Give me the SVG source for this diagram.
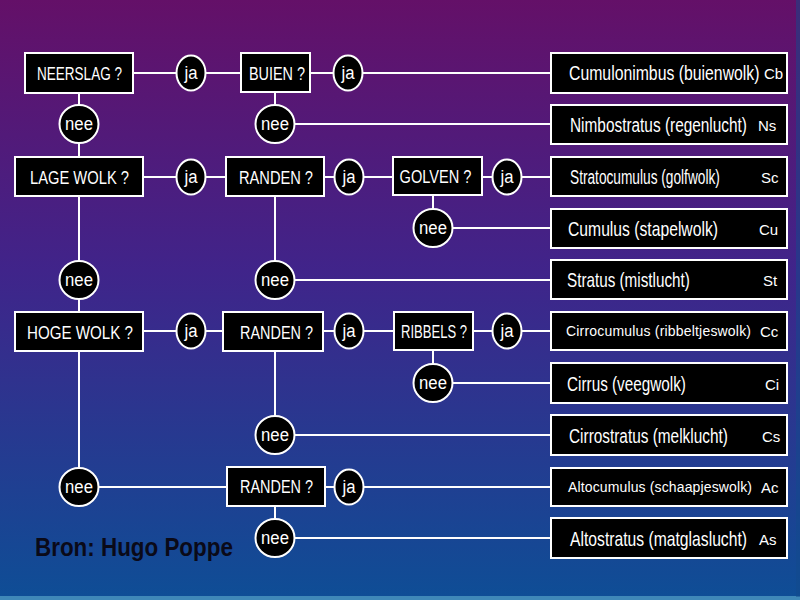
<svg xmlns="http://www.w3.org/2000/svg" width="800" height="600" viewBox="0 0 800 600">
<defs>
<linearGradient id="bg" x1="0" y1="0" x2="0" y2="1">
<stop offset="0" stop-color="#641068"/>
<stop offset="0.45" stop-color="#40248a"/>
<stop offset="1" stop-color="#0e4e96"/>
</linearGradient>
</defs>
<style>
.box{fill:#000;stroke:#fff;stroke-width:2}
.circ{fill:#000;stroke:#fff;stroke-width:2}
.ln{stroke:#fff;stroke-width:2;fill:none}
.q{font-family:"Liberation Sans",Arial,sans-serif;font-size:19px;fill:#fff;text-anchor:middle}
.lbl{font-family:"Liberation Sans",Arial,sans-serif;font-size:19px;fill:#fff;text-anchor:middle}
.res{font-family:"Liberation Sans",Arial,sans-serif;font-size:20px;fill:#fff}
.resa{font-family:"Liberation Sans",Arial,sans-serif;font-size:14px;fill:#fff}
.ab{font-family:"Liberation Sans",Arial,sans-serif;font-size:15px;fill:#fff}
.src{font-family:"Liberation Sans",Arial,sans-serif;font-size:26px;font-weight:bold;fill:#0a0a18}
</style>
<rect x="0" y="0" width="800" height="600" fill="url(#bg)"/>
<rect x="0" y="596" width="800" height="4" fill="#3f88b8"/>
<rect x="796" y="0" width="4" height="597" fill="#124a8c" opacity="0.5"/>

<g id="connectors" class="ln">
<line x1="133" y1="73" x2="241" y2="73"/>
<line x1="310" y1="73" x2="551" y2="73"/>
<line x1="79" y1="93" x2="79" y2="157"/>
<line x1="275" y1="92" x2="275" y2="124"/>
<line x1="275" y1="124" x2="551" y2="124"/>
<line x1="143" y1="177" x2="551" y2="177"/>
<line x1="433" y1="195" x2="433" y2="228"/>
<line x1="433" y1="228" x2="551" y2="228"/>
<line x1="275" y1="196" x2="275" y2="280"/>
<line x1="275" y1="280" x2="551" y2="280"/>
<line x1="79" y1="196" x2="79" y2="312"/>
<line x1="143" y1="331" x2="551" y2="331"/>
<line x1="433" y1="350" x2="433" y2="383"/>
<line x1="433" y1="383" x2="551" y2="383"/>
<line x1="275" y1="351" x2="275" y2="435"/>
<line x1="275" y1="435" x2="551" y2="435"/>
<line x1="79" y1="351" x2="79" y2="487"/>
<line x1="79" y1="487" x2="227" y2="487"/>
<line x1="325" y1="487" x2="551" y2="487"/>
<line x1="275" y1="506" x2="275" y2="538"/>
<line x1="275" y1="538" x2="551" y2="538"/>
</g>

<g id="q-neerslag"><rect class="box" x="25" y="53" width="108" height="40"/><text class="q" transform="translate(79.5 80) scale(0.712 1)">NEERSLAG ?</text></g>
<g id="q-buien"><rect class="box" x="241" y="53" width="69" height="39"/><text class="q" transform="translate(277 79.5) scale(0.758 1)">BUIEN ?</text></g>
<g id="q-lagewolk"><rect class="box" x="15" y="157" width="128" height="39"/><text class="q" transform="translate(79.5 183.5) scale(0.775 1)">LAGE WOLK ?</text></g>
<g id="q-randen1"><rect class="box" x="226" y="157" width="98" height="39"/><text class="q" transform="translate(276 183.5) scale(0.77 1)">RANDEN ?</text></g>
<g id="q-golven"><rect class="box" x="393" y="157" width="89" height="38"/><text class="q" transform="translate(435.5 183) scale(0.768 1)">GOLVEN ?</text></g>
<g id="q-hogewolk"><rect class="box" x="15" y="312" width="128" height="39"/><text class="q" transform="translate(80 338.5) scale(0.797 1)">HOGE WOLK ?</text></g>
<g id="q-randen2"><rect class="box" x="223" y="312" width="100" height="39"/><text class="q" transform="translate(276.5 339) scale(0.76 1)">RANDEN ?</text></g>
<g id="q-ribbels"><rect class="box" x="394" y="312" width="79" height="38"/><text class="q" transform="translate(434 338) scale(0.687 1)">RIBBELS ?</text></g>
<g id="q-randen3"><rect class="box" x="227" y="467" width="98" height="39"/><text class="q" transform="translate(276.5 493) scale(0.76 1)">RANDEN ?</text></g>

<g id="ja1"><ellipse class="circ" cx="191" cy="73" rx="14.5" ry="17.5"/><text class="lbl" transform="translate(191 78.5) scale(0.88 1)">ja</text></g>
<g id="ja2"><ellipse class="circ" cx="348" cy="73" rx="14.5" ry="17.5"/><text class="lbl" transform="translate(348 78.5) scale(0.88 1)">ja</text></g>
<g id="ja3"><ellipse class="circ" cx="191" cy="177" rx="14.5" ry="17.5"/><text class="lbl" transform="translate(191 182.5) scale(0.88 1)">ja</text></g>
<g id="ja4"><ellipse class="circ" cx="349" cy="177" rx="14.5" ry="17.5"/><text class="lbl" transform="translate(349 182.5) scale(0.88 1)">ja</text></g>
<g id="ja5"><ellipse class="circ" cx="507" cy="177" rx="14.5" ry="17.5"/><text class="lbl" transform="translate(507 182.5) scale(0.88 1)">ja</text></g>
<g id="ja6"><ellipse class="circ" cx="191" cy="331" rx="14.5" ry="17.5"/><text class="lbl" transform="translate(191 336.5) scale(0.88 1)">ja</text></g>
<g id="ja7"><ellipse class="circ" cx="349" cy="331" rx="14.5" ry="17.5"/><text class="lbl" transform="translate(349 336.5) scale(0.88 1)">ja</text></g>
<g id="ja8"><ellipse class="circ" cx="507" cy="331" rx="14.5" ry="17.5"/><text class="lbl" transform="translate(507 336.5) scale(0.88 1)">ja</text></g>
<g id="ja9"><ellipse class="circ" cx="349" cy="487" rx="14.5" ry="17.5"/><text class="lbl" transform="translate(349 492.5) scale(0.88 1)">ja</text></g>

<g id="nee1"><ellipse class="circ" cx="79" cy="124" rx="19.5" ry="19"/><text class="lbl" transform="translate(79 129.5) scale(0.88 1)">nee</text></g>
<g id="nee2"><ellipse class="circ" cx="275" cy="124" rx="19.5" ry="19"/><text class="lbl" transform="translate(275 129.5) scale(0.88 1)">nee</text></g>
<g id="nee3"><ellipse class="circ" cx="433" cy="228" rx="19.5" ry="19"/><text class="lbl" transform="translate(433 233.5) scale(0.88 1)">nee</text></g>
<g id="nee4"><ellipse class="circ" cx="79" cy="280" rx="19.5" ry="19"/><text class="lbl" transform="translate(79 285.5) scale(0.88 1)">nee</text></g>
<g id="nee5"><ellipse class="circ" cx="275" cy="280" rx="19.5" ry="19"/><text class="lbl" transform="translate(275 285.5) scale(0.88 1)">nee</text></g>
<g id="nee6"><ellipse class="circ" cx="433" cy="383" rx="19.5" ry="19"/><text class="lbl" transform="translate(433 388.5) scale(0.88 1)">nee</text></g>
<g id="nee7"><ellipse class="circ" cx="275" cy="435" rx="19.5" ry="19"/><text class="lbl" transform="translate(275 440.5) scale(0.88 1)">nee</text></g>
<g id="nee8"><ellipse class="circ" cx="79" cy="487" rx="19.5" ry="19"/><text class="lbl" transform="translate(79 492.5) scale(0.88 1)">nee</text></g>
<g id="nee9"><ellipse class="circ" cx="275" cy="538" rx="19.5" ry="19"/><text class="lbl" transform="translate(275 543.5) scale(0.88 1)">nee</text></g>

<g id="r-cb"><rect class="box" x="551" y="53" width="236" height="40"/><text class="res" transform="translate(569 80) scale(0.79 1)">Cumulonimbus (buienwolk)</text><text class="ab" x="764" y="79">Cb</text></g>
<g id="r-ns"><rect class="box" x="551" y="105" width="236" height="39"/><text class="res" transform="translate(570 131.5) scale(0.77 1)">Nimbostratus (regenlucht)</text><text class="ab" x="758" y="130.5">Ns</text></g>
<g id="r-sc"><rect class="box" x="551" y="157" width="236" height="39"/><text class="res" transform="translate(570 183.5) scale(0.685 1)">Stratocumulus (golfwolk)</text><text class="ab" x="761" y="182.5">Sc</text></g>
<g id="r-cu"><rect class="box" x="551" y="209" width="236" height="39"/><text class="res" transform="translate(568 235.5) scale(0.785 1)">Cumulus (stapelwolk)</text><text class="ab" x="759" y="234.5">Cu</text></g>
<g id="r-st"><rect class="box" x="551" y="260" width="236" height="39"/><text class="res" transform="translate(567 286.5) scale(0.763 1)">Stratus (mistlucht)</text><text class="ab" x="763" y="285.5">St</text></g>
<g id="r-cc"><rect class="box" x="551" y="312" width="236" height="38"/><text class="resa" x="566" y="336" textLength="185" lengthAdjust="spacing">Cirrocumulus (ribbeltjeswolk)</text><text class="ab" x="760" y="336.5">Cc</text></g>
<g id="r-ci"><rect class="box" x="551" y="363" width="236" height="40"/><text class="res" transform="translate(567 390.5) scale(0.765 1)">Cirrus (veegwolk)</text><text class="ab" x="765" y="389.5">Ci</text></g>
<g id="r-cs"><rect class="box" x="551" y="415" width="236" height="40"/><text class="res" transform="translate(569 442.5) scale(0.769 1)">Cirrostratus (melklucht)</text><text class="ab" x="762" y="441.5">Cs</text></g>
<g id="r-ac"><rect class="box" x="551" y="468" width="236" height="38"/><text class="resa" x="568" y="492" textLength="184" lengthAdjust="spacing">Altocumulus (schaapjeswolk)</text><text class="ab" x="761" y="492.5">Ac</text></g>
<g id="r-as"><rect class="box" x="551" y="518" width="236" height="40"/><text class="res" transform="translate(570 545.5) scale(0.785 1)">Altostratus (matglaslucht)</text><text class="ab" x="759" y="544.5">As</text></g>

<text class="src" transform="translate(35 556) scale(0.862 1)">Bron: Hugo Poppe</text>
</svg>
